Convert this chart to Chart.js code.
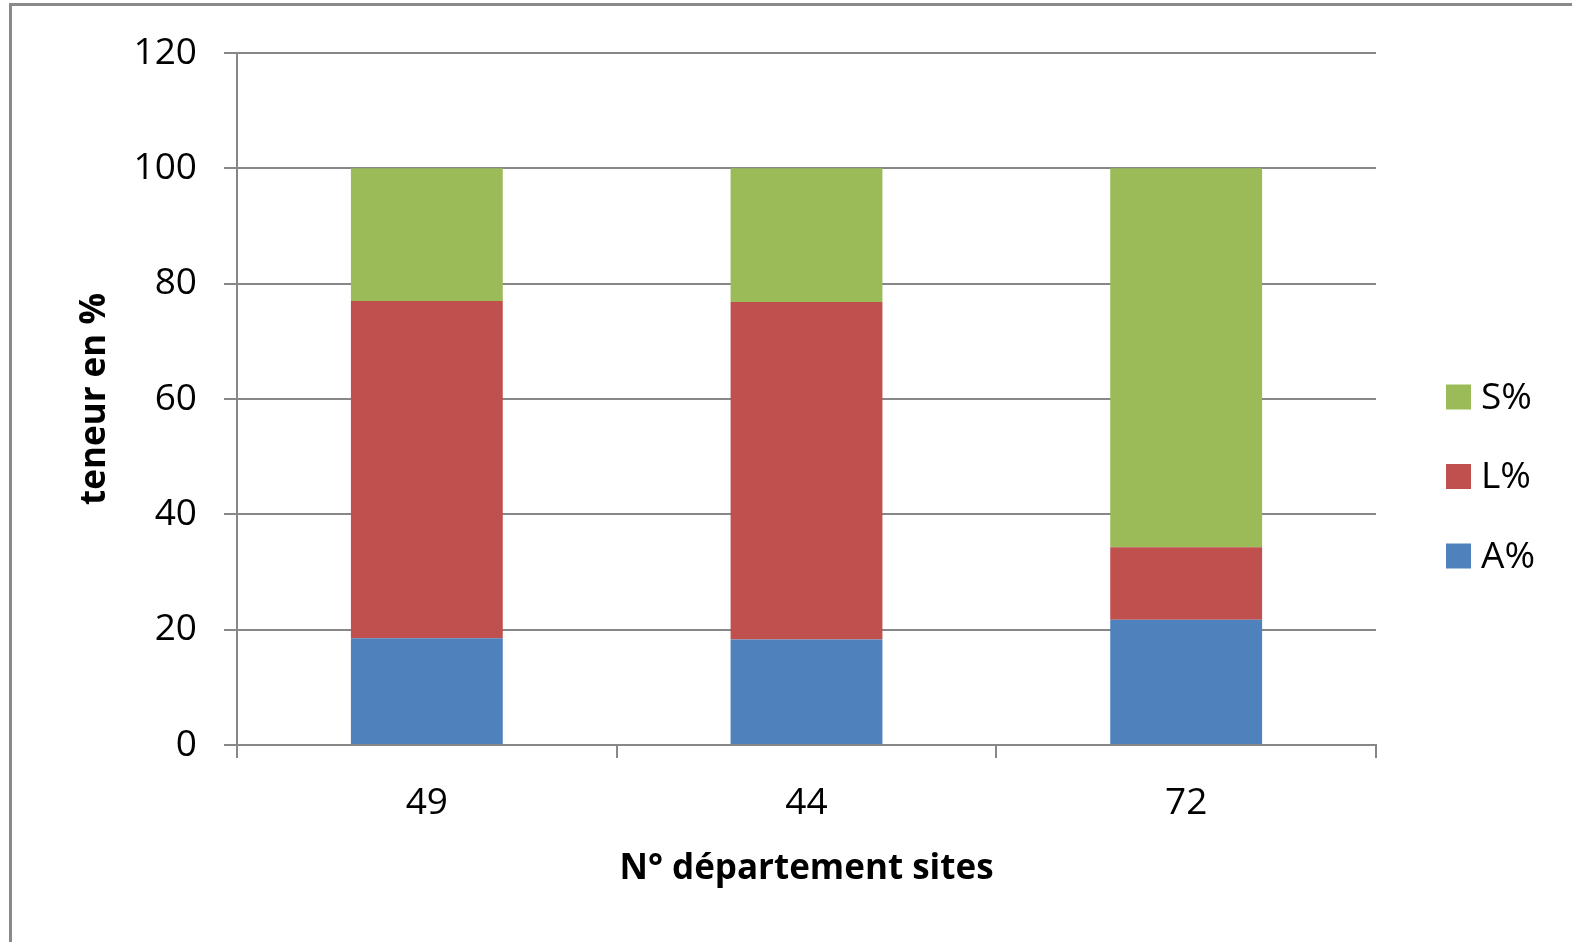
<!DOCTYPE html>
<html>
<head>
<meta charset="utf-8">
<script src="https://cdn.jsdelivr.net/npm/chart.js@4.4.1/dist/chart.umd.min.js"></script>
<style>
  html, body { margin: 0; padding: 0; background: #fff; overflow: hidden; }
  #frame {
    position: absolute; left: 9px; top: 3px; width: 1600px; height: 1000px;
    border-left: 3px solid #8a8a8a; border-top: 3px solid #8a8a8a;
  }
  canvas { position: absolute; left: 0; top: 0; }
</style>
</head>
<body>
<div id="frame"></div>
<canvas id="chart" width="1572" height="942"></canvas>
<script>
// departement numbers along the x axis
const sites = ['49', '44', '72']

// soil texture shares, bottom to top of each bar
const argile = [18.5, 18.3, 21.7]   // A%
const limon = [58.5, 58.5, 12.6]    // L%
const sable = [23.0, 23.2, 65.7]    // S%

const yTicks = [0, 20, 40, 60, 80, 100, 120]

const colors = { A: '#4f81bd', L: '#c0504d', S: '#9bbb59' }
const gridColor = '#878787'
const font = 'Open Sans'

// Excel-style legend on the right, entries listed top to bottom (S, L, A)
const sideLegend = {
  id: 'sideLegend',
  afterDraw(chart) {
    let { ctx, chartArea } = chart
    let items = chart.data.datasets.slice().reverse()
    let x = chartArea.right + 70
    let y0 = 397
    let step = 79.5
    ctx.save()
    ctx.font = '37px "' + font + '"'
    ctx.textBaseline = 'middle'
    items.forEach((ds, i) => {
      let cy = y0 + i * step
      ctx.fillStyle = ds.backgroundColor
      ctx.fillRect(x, cy - 12.5, 25, 25)
      ctx.fillStyle = '#000'
      ctx.fillText(ds.label, x + 35, cy + 1)
    })
    ctx.restore()
  }
}

new Chart(document.getElementById('chart'), {
  type: 'bar',
  data: {
    labels: sites,
    datasets: [
      { label: 'A%', data: argile, backgroundColor: colors.A },
      { label: 'L%', data: limon, backgroundColor: colors.L },
      { label: 'S%', data: sable, backgroundColor: colors.S }
    ]
  },
  options: {
    responsive: false,
    animation: false,
    devicePixelRatio: 1,
    layout: { padding: { top: 53, right: 196, bottom: 0, left: 0 } },
    datasets: { bar: { barPercentage: 0.4, categoryPercentage: 1, borderWidth: 0 } },
    plugins: {
      legend: { display: false },
      tooltip: { enabled: false }
    },
    scales: {
      x: {
        stacked: true,
        offset: true,
        afterFit: (scale) => { scale.height = 197 },
        grid: {
          offset: true,
          drawOnChartArea: false,
          drawTicks: true,
          tickLength: 13,
          color: gridColor,
          lineWidth: 2
        },
        border: { display: true, color: gridColor, width: 2 },
        ticks: { color: '#000', padding: 23, font: { family: font, size: 37 } },
        title: {
          display: true,
          text: 'N° département sites',
          color: '#000',
          padding: { top: 0, bottom: 52 },
          font: { family: font, size: 35, weight: 'bold' }
        }
      },
      y: {
        stacked: true,
        min: 0,
        max: 120,
        afterFit: (scale) => { scale.width = 237 },
        afterBuildTicks: (scale) => { scale.ticks = yTicks.map((v) => ({ value: v })) },
        grid: { color: gridColor, lineWidth: 2, tickLength: 13 },
        border: { display: true, color: gridColor, width: 2 },
        ticks: { color: '#000', padding: 27, font: { family: font, size: 37 } },
        title: {
          display: true,
          text: 'teneur en %',
          color: '#000',
          padding: { top: 74, bottom: 0 },
          font: { family: font, size: 35, weight: 'bold' }
        }
      }
    }
  },
  plugins: [sideLegend]
})
</script>
</body>
</html>
